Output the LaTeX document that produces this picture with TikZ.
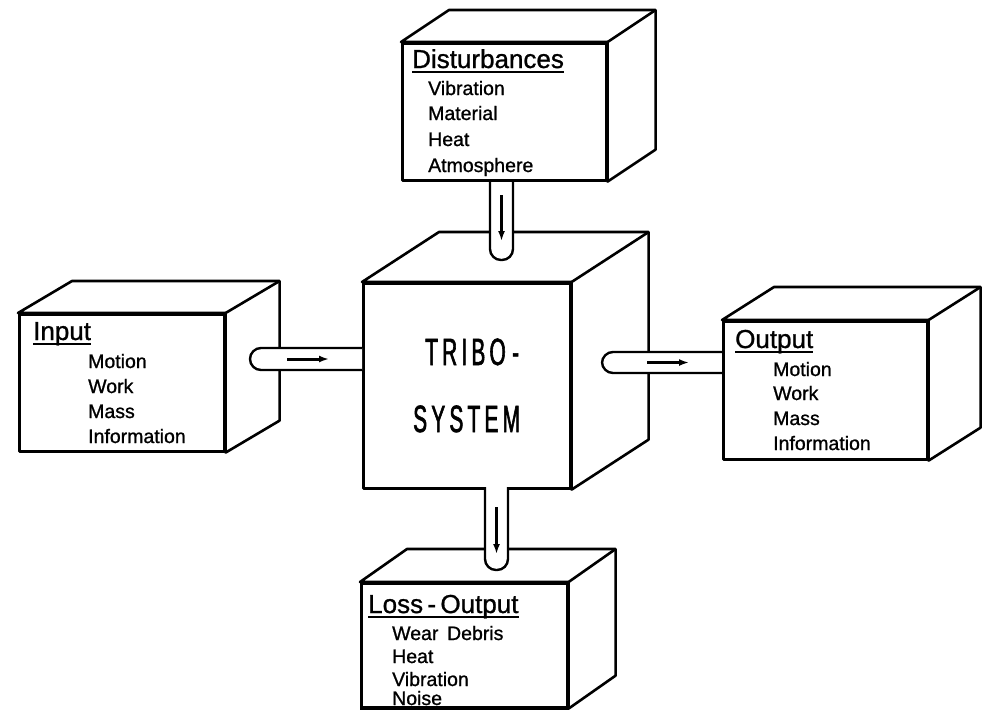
\documentclass[tikz,border=0pt]{standalone}
\usepackage{fontspec}
\setmainfont{Liberation Sans}[FakeBold=1.0]
\newfontfamily\bigfont{Liberation Sans}[FakeStretch=0.55, LetterSpace=11, FakeBold=1.5]
\usetikzlibrary{arrows.meta}
\tikzset{
  face/.style={draw, fill=white, line width=2.6pt, line join=round},
  front/.style={face, anchor=north west, inner sep=0pt},
  title/.style={anchor=base west, inner sep=0pt, font=\fontsize{26}{30}\selectfont},
  item/.style={anchor=base west, inner sep=0pt, font=\fontsize{19.5}{24}\selectfont},
  bigtext/.style={anchor=base west, inner sep=0pt, font=\bigfont\fontsize{38}{42}\selectfont},
  uline/.style={line width=2pt},
  tube/.style={draw, fill=white, line width=2.4pt, rounded corners=11pt},
  flow/.style={line width=3pt, -{Latex[length=10pt,width=7pt]}},
}
\newcommand{\cubeback}[3]{%
  \filldraw[face] (#1.north west) -- ++(#2,#3) -- ([shift={(#2,#3)}]#1.north east)
     -- ([shift={(#2,#3)}]#1.south east) -- (#1.south east) -- (#1.north east) -- cycle;
  \draw[face] (#1.north east) -- ++(#2,#3);}
\newcommand{\ulinenode}[1]{\draw[uline] ([yshift=-4pt]#1.base west) -- ([yshift=-4pt]#1.base east);}
\begin{document}
\begin{tikzpicture}[x=1pt,y=-1pt]
\useasboundingbox (0,0) rectangle (984,721);
\fill[white] (0,0) rectangle (984,721);

% ---------- central cube ----------
\node[front, minimum width=207pt, minimum height=205pt] (tribo) at (362,282) {};
\cubeback{tribo}{77}{-50}
\node[bigtext] (t1) at (425,365) {TRIBO\,-};
\node[bigtext] (t2) at (413,432) {SYSTEM};

% ---------- input box ----------
\node[front, minimum width=205pt, minimum height=137pt] (in) at (18,313) {};
\cubeback{in}{54}{-32}
\node[title] (inT) at (33,340) {Input};
\ulinenode{inT}
\node[item] (in1) at (88,368) {Motion};
\node[item] (in2) at (88,393) {Work};
\node[item] (in3) at (88,418) {Mass};
\node[item] (in4) at (88,443) {Information};

% input tube
\path[tube] (362,348) -- (250,348) -- (250,370) -- (362,370);
\coordinate (ia) at (287,359);
\coordinate (ib) at (329,359);
\draw[flow] (ia) -- (ib);

% ---------- output box ----------
\path[tube] (722,352) -- (602,352) -- (602,373) -- (722,373);
\coordinate (oa) at (647,362.5);
\coordinate (ob) at (689,362.5);
\draw[flow] (oa) -- (ob);
\node[front, minimum width=204pt, minimum height=138pt] (out) at (722,320) {};
\cubeback{out}{52}{-33}
\node[title] (outT) at (735,348) {Output};
\ulinenode{outT}
\node[item] (out1) at (773,376) {Motion};
\node[item] (out2) at (773,400) {Work};
\node[item] (out3) at (773,425) {Mass};
\node[item] (out4) at (773,450) {Information};

% ---------- disturbances box ----------
\path[tube] (490,179) -- (490,260) -- (513,260) -- (513,179);
\coordinate (da) at (501.5,195);
\coordinate (db) at (501.5,241);
\draw[flow] (da) -- (db);
\node[front, minimum width=204pt, minimum height=137pt] (dist) at (401,42) {};
\cubeback{dist}{48}{-32}
\node[title] (distT) at (412,68) {Disturbances};
\ulinenode{distT}
\node[item] (d1) at (428,95) {Vibration};
\node[item] (d2) at (428,120) {Material};
\node[item] (d3) at (428,146) {Heat};
\node[item] (d4) at (428,172) {Atmosphere};

% ---------- loss-output box ----------
\node[front, minimum width=206pt, minimum height=124pt] (loss) at (360,582) {};
\cubeback{loss}{47}{-33}
\node[title] (lossT) at (368,613) {Loss\,-\,Output};
\ulinenode{lossT}
\node[item] (l1) at (392,640) {Wear\, Debris};
\node[item] (l2) at (392,663) {Heat};
\node[item] (l3) at (392,686) {Vibration};
\node[item] (l4) at (392,705) {Noise};
\draw[line width=2.6pt] (loss.south west) -- (loss.south east);

\path[tube] (485,487) -- (485,570) -- (508,570) -- (508,487);
\coordinate (la) at (496.5,507);
\coordinate (lb) at (496.5,554);
\draw[flow] (la) -- (lb);
\end{tikzpicture}
\end{document}
